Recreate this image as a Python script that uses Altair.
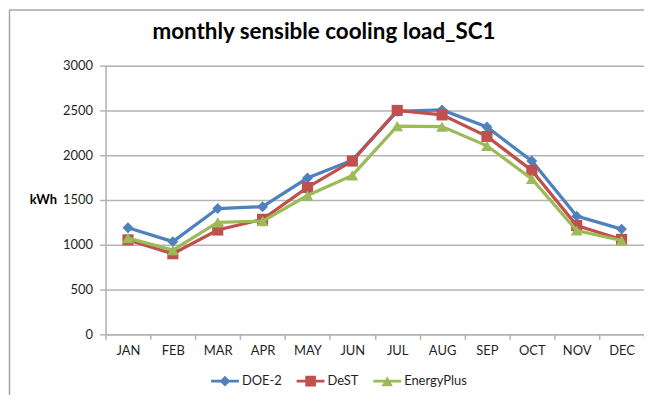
import altair as alt
import pandas as pd

months = ["JAN", "FEB", "MAR", "APR", "MAY", "JUN", "JUL", "AUG", "SEP", "OCT", "NOV", "DEC"]
series_names = ["DOE-2", "DeST", "EnergyPlus"]
doe2 = [1190, 1035, 1405, 1425, 1745, 1945, 2490, 2505, 2315, 1935, 1320, 1175]
dest = [1055, 900, 1165, 1285, 1640, 1935, 2500, 2450, 2210, 1830, 1215, 1060]
eplus = [1075, 940, 1250, 1265, 1550, 1775, 2325, 2320, 2105, 1735, 1160, 1048]
colors = ["#4F81BD", "#C0504D", "#9BBB59"]
marker_shapes = ["diamond", "square", "triangle-up"]
marker_sizes = [120, 125, 140]
y_ticks = [0, 500, 1000, 1500, 2000, 2500, 3000]

# legend symbols: a short line with the series marker on it
legend_paths = [
    "M-1,-0.1L1,-0.1L1,0.1L-1,0.1Z M0,-0.39L0.39,0L0,0.39L-0.39,0Z",
    "M-1,-0.1L1,-0.1L1,0.1L-1,0.1Z M-0.38,-0.38L0.38,-0.38L0.38,0.38L-0.38,0.38Z",
    "M-1,-0.1L1,-0.1L1,0.1L-1,0.1Z M0,-0.36L0.41,0.36L-0.41,0.36Z",
]

rows = []
for name, vals in zip(series_names, [doe2, dest, eplus]):
    for m, v in zip(months, vals):
        rows.append({"month": m, "series": name, "value": v})
df = pd.DataFrame(rows)

FONT = "Lato"
GRID = "#B3B3B3"
TEXT = "#1F1F1F"

x_enc = alt.X(
    "month:N",
    sort=months,
    scale=alt.Scale(type="band", paddingInner=0, paddingOuter=0),
    axis=alt.Axis(
        title=None, labelAngle=0, grid=False, domain=True, domainColor=GRID,
        domainWidth=1.5, ticks=True, tickBand="extent", tickSize=5, tickColor=GRID,
        tickWidth=1.5, labelPadding=5, labelFont=FONT, labelFontSize=13, labelColor=TEXT,
    ),
)
y_enc = alt.Y(
    "value:Q",
    scale=alt.Scale(domain=[0, 3000], nice=False),
    axis=alt.Axis(
        values=y_ticks, format="d", grid=True, gridColor=GRID, gridWidth=1.5, domain=True,
        domainColor=GRID, domainWidth=1.5, ticks=True, tickSize=6, tickColor=GRID,
        tickWidth=1.5, labelPadding=7, labelFont=FONT, labelFontSize=13, labelColor=TEXT,
        title="kWh", titleAngle=0, titleFont=FONT, titleFontSize=13, titleFontWeight="bold",
        titleColor="black", titleX=-63, titleY=135, titleAlign="center", titleBaseline="middle",
    ),
)

base = alt.Chart(df)
layers = []
for name, col, shp, sz in zip(series_names, colors, marker_shapes, marker_sizes):
    sub = base.transform_filter(alt.datum.series == name)
    layers.append(sub.mark_line(color=col, strokeWidth=3.25).encode(x=x_enc, y=y_enc))
    layers.append(
        sub.mark_point(shape=shp, size=sz, filled=True, color=col, opacity=1).encode(x=x_enc, y=y_enc)
    )

legend_props = dict(
    title=None, orient="none", direction="horizontal", legendX=106, legendY=303,
    symbolSize=784, symbolStrokeWidth=0, labelFont=FONT, labelFontSize=13,
    labelColor=TEXT, labelOffset=3, columnPadding=14,
)
legend_layer = base.transform_filter("false").mark_point(filled=True, opacity=1).encode(
    x=x_enc,
    y=y_enc,
    color=alt.Color("series:N", scale=alt.Scale(domain=series_names, range=colors),
                    legend=alt.Legend(**legend_props)),
    shape=alt.Shape("series:N", scale=alt.Scale(domain=series_names, range=legend_paths),
                    legend=alt.Legend(**legend_props)),
)

frame_df = pd.DataFrame({"k": [0]})
frame_left = alt.Chart(frame_df).mark_rule(color="#A6A6A6", strokeWidth=1.5).encode(
    x=alt.value(-96.5), y=alt.value(-56), y2=alt.value(340)
)
frame_top = alt.Chart(frame_df).mark_rule(color="#A6A6A6", strokeWidth=1.5).encode(
    x=alt.value(-97), x2=alt.value(560), y=alt.value(-56)
)

chart = alt.layer(frame_left, frame_top, *layers, legend_layer).properties(
    width=541,
    height=270,
    padding={"left": 98, "top": 57, "right": 0, "bottom": 60},
    autosize=alt.AutoSizeParams(type="none"),
    title=alt.Title(
        "monthly sensible cooling load_SC1", font=FONT, fontSize=22.5, fontWeight="bold",
        color="black", anchor="middle", dx=-51, dy=38,
    ),
).configure_view(stroke=None).configure(background="white")

chart.save("out.html", embed_options={"renderer": "svg", "actions": False})
